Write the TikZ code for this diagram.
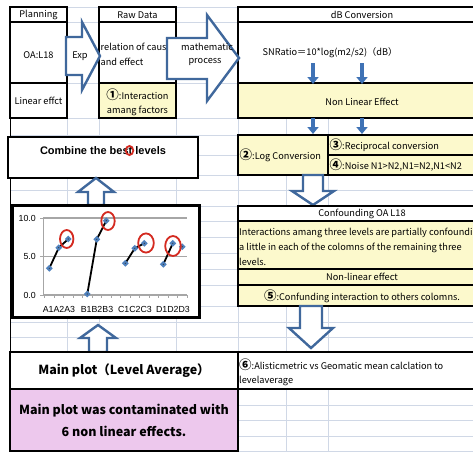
\documentclass[tikz,border=0pt]{standalone}
\usepackage{fontspec}
\setmainfont{Noto Sans CJK JP}
\newfontfamily\arial{Liberation Sans}
\usetikzlibrary{arrows.meta}
\definecolor{gridc}{HTML}{D0D8E6}
\definecolor{cellyellow}{HTML}{FCF9CC}
\definecolor{cellpink}{HTML}{EDC8ED}
\definecolor{arrowblue}{HTML}{40689C}
\definecolor{solidblue}{HTML}{3F72B5}
\definecolor{markblue}{HTML}{4F81BD}
\definecolor{circred}{HTML}{D42A20}
\definecolor{chartgrid}{HTML}{A6A6A6}
\newcommand{\circnum}[1]{{\bfseries\fontsize{12.5}{12}\selectfont #1}}
\tikzset{
  cellbox/.style={draw=black, line width=1.6pt},
  hollow/.style={draw=arrowblue, line width=2.4pt, fill=white, line join=miter},
  solidarrow/.style={draw=solidblue, line width=3.5pt, -{Triangle[width=11pt,length=7pt]}},
  txt/.style={font=\fontsize{9.2}{11}\selectfont, inner sep=0pt},
  bigtxt/.style={font=\fontsize{12.5}{15}\selectfont\bfseries, inner sep=0pt, align=center},
  charttxt/.style={font=\arial\fontsize{8.8}{10}\selectfont, inner sep=0pt},
  redring/.style={draw=circred, line width=1.8pt}
}
\begin{document}
\begin{tikzpicture}[x=1pt,y=-1pt]
\useasboundingbox (0,0) rectangle (473,452);
\clip (0,0) rectangle (473,452);
\fill[white] (0,0) rectangle (473,452);
% spreadsheet grid
\foreach \gx in {67,99,176,238,286,328} \draw[gridc, line width=0.8pt] (\gx,7) -- (\gx,452);
\foreach \gy in {7,22,83,118,135,155,175,190,206,221,237,253,269,285,306,322,337,352,389,405,420,436,451}
  \draw[gridc, line width=0.8pt] (10,\gy) -- (480,\gy);
\draw[black, line width=0.9pt] (10,7) -- (10,452);

% top-left cells
\draw[cellbox, fill=white] (10,7) rectangle (67,22);
\draw[cellbox, fill=white] (10,22) rectangle (67,83);
\draw[cellbox, fill=white] (10,83) rectangle (67,118);
\node[txt] (planning) at (38.5,15) {Planning};
\node[txt] (oa) at (38.5,55) {OA:L18};
\node[txt] (linear) at (38.5,101) {Linear effct};

\draw[cellbox, fill=white] (99,7) rectangle (176,22);
\draw[cellbox, fill=white] (99,22) rectangle (176,83);
\draw[cellbox, fill=cellyellow] (99,83) rectangle (176,118);
\node[txt] (raw) at (137.5,15) {Raw Data};
\begin{scope}
\clip (99,22) rectangle (175,83);
\node[txt, anchor=west] (rel1) at (100.5,47) {relation of cause};
\node[txt, anchor=west] (rel2) at (100.5,62) {and effect};
\end{scope}
\node[txt] (int1) at (137.5,95) {\circnum{①}:Interaction};
\node[txt] (int2) at (137.5,111) {amang factors};

% right top cells
\draw[cellbox, fill=white] (238,7) rectangle (490,22);
\draw[cellbox, fill=white] (238,22) rectangle (490,83);
\draw[cellbox, fill=cellyellow] (238,83) rectangle (490,118);
\node[txt] (dbconv) at (362,15) {dB Conversion};
\node[txt] (snr) at (330,53) {SNRatio＝10*log(m2/s2)（dB）};
\node[txt] (nonlin) at (362,102) {Non Linear Effect};

% hollow right arrows
\draw[hollow] (66,37) -- (82,37) -- (82,22) -- (100,56) -- (82,90) -- (82,75) -- (66,75) -- cycle;
\node[txt] (exp) at (80,56) {Exp};
\draw[hollow] (167,38) -- (207,38) -- (207,15) -- (239,58) -- (207,101) -- (207,79) -- (167,79) -- cycle;
\begin{scope}
\clip (168,38) rectangle (232,79);
\node[txt, anchor=west] (math1) at (181,47) {mathematic};
\end{scope}
\node[txt] (math2) at (205,62) {process};

% small solid arrows
\coordinate (sa1) at (313,63); \coordinate (sa1e) at (313,84);
\coordinate (sa2) at (362,63); \coordinate (sa2e) at (362,84);
\coordinate (sb1) at (313,118); \coordinate (sb1e) at (313,134);
\coordinate (sb2) at (362,118); \coordinate (sb2e) at (362,134);
\draw[solidarrow] (sa1) -- (sa1e);
\draw[solidarrow] (sa2) -- (sa2e);
\draw[solidarrow] (sb1) -- (sb1e);
\draw[solidarrow] (sb2) -- (sb2e);

% log / reciprocal / noise
\draw[cellbox, fill=cellyellow] (238,135) rectangle (328,175);
\draw[cellbox, fill=cellyellow] (328,135) rectangle (490,155);
\draw[cellbox, fill=cellyellow] (328,155) rectangle (490,175);
\node[txt, anchor=west] (logc) at (239.5,155) {\circnum{②}:Log Conversion};
\node[txt, anchor=west] (recip) at (329.5,145) {\circnum{③}:Reciprocal conversion};
\node[txt, anchor=west] (noise) at (329.5,165) {\circnum{④}:Noise N1>N2,N1=N2,N1<N2};

% hollow down arrow 1
\draw[hollow] (303,175) -- (323,175) -- (323,191) -- (334,191) -- (313,205) -- (292,191) -- (303,191) -- cycle;

% confounding block
\draw[cellbox, fill=white] (238,206) rectangle (490,221);
\draw[cellbox, fill=cellyellow] (238,221) rectangle (490,269);
\draw[cellbox, fill=cellyellow] (238,269) rectangle (490,285);
\draw[cellbox, fill=cellyellow] (238,285) rectangle (490,306);
\node[txt] (conf) at (362,213.5) {Confounding OA L18};
\node[txt, anchor=west] (conft1) at (239,233) {Interactions amang three levels are partially confounding};
\node[txt, anchor=west] (conft2) at (239,247.5) {a little in each of the colomns of the remaining three};
\node[txt, anchor=west] (conft3) at (239,262) {levels.};
\node[txt] (nle) at (362,277) {Non-linear effect};
\node[txt] (conf5) at (362,296) {\circnum{⑤}:Confunding interaction to others colomns.};

% hollow down arrow 2
\draw[hollow] (300,306) -- (322,306) -- (322,328) -- (333,328) -- (311,348) -- (289,328) -- (300,328) -- cycle;

% (6) cell
\draw[cellbox, fill=white] (238,352) rectangle (490,389);
\node[txt, anchor=west] (six1) at (239,365) {\circnum{⑥}:Alisticmetric vs Geomatic mean calclation to};
\node[txt, anchor=west] (six2) at (239,381) {levelaverage};

% combine box
\draw[black, line width=2.6pt, fill=white] (8,137) rectangle (198,178);
\node[font=\arial\bfseries\fontsize{11}{13}\selectfont, inner sep=0pt] (combine) at (103,151) {Combine the best levels};
\draw[redring] (129.5,150.5) ellipse (3.8pt and 4.6pt);

% hollow up arrow 1
\draw[hollow] (88,205) -- (88,192) -- (78,192) -- (96,178) -- (114,192) -- (104,192) -- (104,205) -- cycle;

% chart
\draw[black, line width=3pt, fill=white] (12,205) rectangle (199,317);
\foreach \gy in {218,256.5} \draw[chartgrid, line width=1.2pt] (43,\gy) -- (187,\gy);
\draw[chartgrid, line width=1.2pt] (43,295) -- (187,295);
\draw[chartgrid, line width=1pt] (43,218) -- (43,295);
\foreach \gy in {218,256.5,295} \draw[chartgrid, line width=1pt] (40,\gy) -- (43,\gy);
\foreach \k in {0,...,15} \draw[chartgrid, line width=0.8pt] (44.5+9.5*\k,295) -- (44.5+9.5*\k,298);
\node[charttxt, anchor=east] (y10) at (36,218) {10.0};
\node[charttxt, anchor=east] (y5) at (36,256.5) {5.0};
\node[charttxt, anchor=east] (y0) at (36,295) {0.0};
\node[charttxt] (la) at (59,309) {A1A2A3};
\node[charttxt] (lb) at (97,309) {B1B2B3};
\node[charttxt] (lc) at (135,309) {C1C2C3};
\node[charttxt] (ld) at (173,309) {D1D2D3};
% data points
\coordinate (A1) at (49.3,268.3); \coordinate (A2) at (58.8,247.7); \coordinate (A3) at (68.3,239);
\coordinate (B1) at (87.3,294); \coordinate (B2) at (96.8,239.3); \coordinate (B3) at (106.3,220.7);
\coordinate (C1) at (125.3,263.3); \coordinate (C2) at (134.8,248.3); \coordinate (C3) at (144.3,243.3);
\coordinate (D1) at (163.3,264.3); \coordinate (D2) at (172.8,243.3); \coordinate (D3) at (182.3,246.7);
\draw[black, line width=1.8pt] (A1) -- (A2) -- (A3);
\draw[black, line width=1.8pt] (B1) -- (B2) -- (B3);
\draw[black, line width=1.8pt] (C1) -- (C2) -- (C3);
\draw[black, line width=1.8pt] (D1) -- (D2);
\foreach \p in {A1,A2,A3,B1,B2,B3,C1,C2,C3,D1,D2,D3} {
  \fill[markblue] (\p) ++(0,-3.4) -- ++(3.4,3.4) -- ++(-3.4,3.4) -- ++(-3.4,-3.4) -- cycle;
  \fill[black!80] (\p) circle (0.6pt);
}
\draw[redring] (66.7,239) ellipse (6.7pt and 9pt);
\draw[redring] (108,221) ellipse (6.7pt and 9pt);
\draw[redring] (146,243) ellipse (7.8pt and 9.6pt);
\draw[redring] (173,246) ellipse (7.8pt and 10pt);

% hollow up arrow 2
\draw[hollow] (89,352) -- (89,338) -- (80,338) -- (98,325) -- (116,338) -- (107,338) -- (107,352) -- cycle;

% main plot cells
\draw[cellbox, fill=white] (10,352) rectangle (238,389);
\draw[cellbox, fill=cellpink] (10,389) rectangle (238,451);
\node[bigtxt] (mainplot) at (124,371) {Main plot（Level Average）};
\node[bigtxt] (contam1) at (124,411) {Main plot was contaminated with};
\node[bigtxt] (contam2) at (124,431) {6 non linear effects.};
\end{tikzpicture}
\end{document}
